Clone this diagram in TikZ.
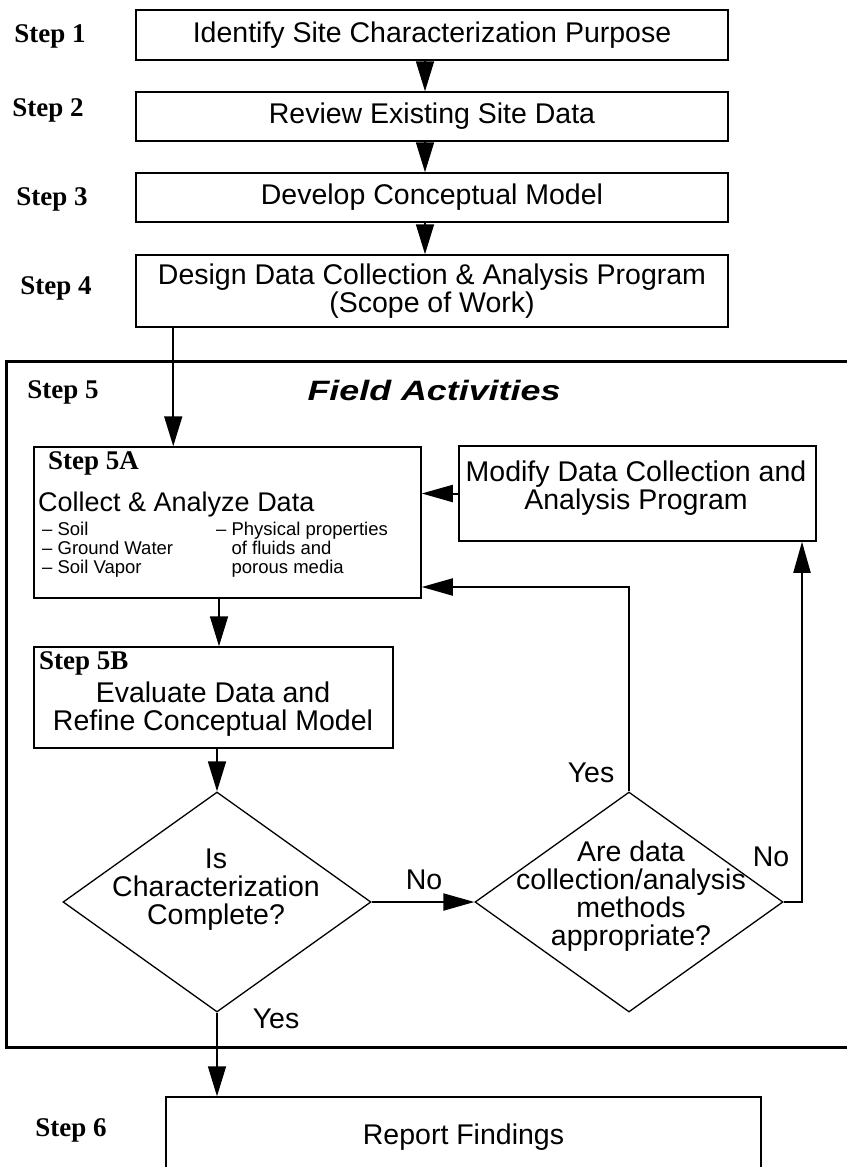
\documentclass[tikz,border=0pt]{standalone}
\usepackage{fontspec}
\setmainfont{Liberation Sans}
\newfontfamily\stepfont{Liberation Serif}
\usetikzlibrary{arrows.meta, shapes.geometric, positioning, calc}

\begin{document}
\begin{tikzpicture}[x=1pt, y=-1pt,
  box/.style = {draw, line width=1.5pt, inner sep=0pt, align=center, font=\fontsize{28.5}{28}\selectfont},
  decision/.style = {draw, diamond, line width=1.3pt, minimum width=308pt, minimum height=220pt, inner sep=0pt},
  steplbl/.style = {inner sep=0pt, font=\stepfont\bfseries\fontsize{27}{28}\selectfont},
  txt/.style = {inner sep=0pt, align=center, font=\fontsize{28.5}{28}\selectfont},
  small/.style = {inner sep=0pt, align=left, font=\fontsize{18.5}{19}\selectfont},
  arr/.style = {line width=1.7pt, -{Triangle[width=18pt, length=30pt]}},
  flow/.style = {line width=2pt, -{Triangle[width=17pt, length=31pt]}}
]
\useasboundingbox (0,0) rectangle (846,1167);

\node[box, minimum width=592pt, minimum height=50pt] (s1) at (432,35) {Identify Site Characterization Purpose};
\node[box, minimum width=592pt, minimum height=49pt] (s2) at (432,116.5) {Review Existing Site Data};
\node[box, minimum width=592pt, minimum height=49pt] (s3) at (432,197.5) {Develop Conceptual Model};
\node[box, minimum width=592pt, minimum height=72pt] (s4) at (432,291) {Design Data Collection \& Analysis Program\\(Scope of Work)};

\node[steplbl] (l1) at (50,36) {Step 1};
\node[steplbl] (l2) at (48,110) {Step 2};
\node[steplbl] (l3) at (52,199) {Step 3};
\node[steplbl] (l4) at (56,288) {Step 4};

\draw[arr] ([xshift=-7pt]s1.south) -- ([xshift=-7pt]s2.north);
\draw[arr] ([xshift=-7pt]s2.south) -- ([xshift=-7pt]s3.north);
\draw[arr] ([xshift=-7pt]s3.south) -- ([xshift=-7pt]s4.north);

% field activities frame
\draw[line width=3pt] (6,361) rectangle (870,1047);
\node[steplbl] (l5) at (63,392) {Step 5};
\node[font=\bfseries\itshape\fontsize{28}{30}\selectfont, inner sep=0pt] (field) at (434,390) {\scalebox{1.28}[1]{Field Activities}};

\node[box, minimum width=387pt, minimum height=151pt] (a5) at (227.5,522.5) {};
\node[steplbl, anchor=west] (a5lbl) at (48,463) {Step 5A};
\node[txt, anchor=west, font=\fontsize{27}{28}\selectfont] (a5txt) at (38,505) {Collect \& Analyze Data};
\node[small, anchor=north west] (a5left) at (42,522) {– Soil\\– Ground Water\\– Soil Vapor};
\node[small, anchor=north west] (a5right) at (216,522) {– Physical properties\\\phantom{– }of fluids and\\\phantom{– }porous media};

\node[box, minimum width=357pt, minimum height=95pt] (m) at (637.5,493.5) {};
\node[txt] (mtxt) at (636,488) {Modify Data Collection and\\Analysis Program};

\node[box, minimum width=359pt, minimum height=101pt] (b5) at (213.5,697.5) {};
\node[steplbl, anchor=west] (b5lbl) at (39,663) {Step 5B};
\node[txt] (b5txt) at (213,709) {Evaluate Data and\\Refine Conceptual Model};

\node[decision] (d1) at (217,902) {};
\node[txt] (d1txt) at (216,889.5) {Is\\Characterization\\Complete?};
\node[decision] (d2) at (629,902) {};
\node[txt] (d2txt) at (631,896) {Are data\\collection/analysis\\methods\\appropriate?};

\node[txt] (no1) at (424,880) {No};
\node[txt] (yes1) at (591,773) {Yes};
\node[txt] (no2) at (771,857) {No};
\node[txt] (yes2) at (276,1019) {Yes};

\node[box, minimum width=595pt, minimum height=80pt] (r) at (463.5,1137) {Report Findings};
\node[steplbl] (l6) at (71,1130) {Step 6};

\draw[arr] (s4.south west) ++(38,0) coordinate (s4out) -- (s4out |- a5.north);
\draw[flow] (m.west) -- (m.west -| a5.east);
\draw[arr] ([xshift=-8.5pt]a5.south) -- ([xshift=-8.5pt]a5.south |- b5.north);
\draw[arr] (d1.north |- b5.south) -- (d1.north);
\draw[flow] (d1.east) -- (d2.west);
\draw[flow] (d2.north) |- ([yshift=-64.5pt]a5.east);
\draw[flow] (d2.east) -| ([xshift=164.5pt]m.south);
\draw[arr] (d1.south) -- (d1.south |- r.north);
\end{tikzpicture}
\end{document}
